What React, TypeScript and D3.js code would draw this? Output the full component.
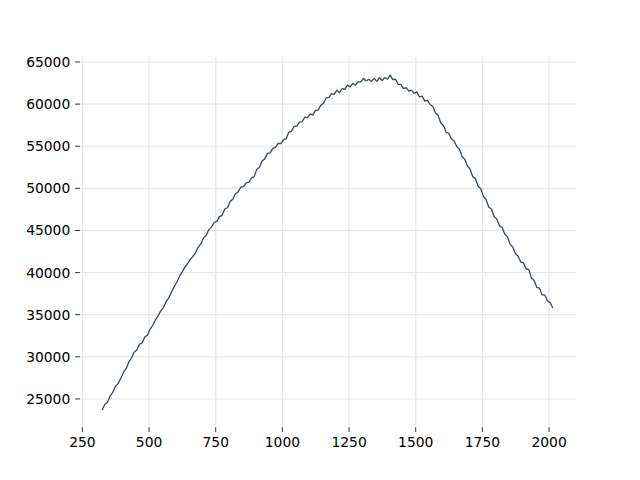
import React from "react";
import * as d3 from "d3";

const xValues: number[] = d3.range(324, 2015, 10);
const yValues: number[] = [
  23700, 24350, 24600, 25350, 25800, 26500, 26850, 27450, 28150, 28600,
  29400, 29850, 30550, 30800, 31500, 31650, 32350, 32600, 33300, 33750,
  34400, 34900, 35450, 35850, 36550, 37000, 37700, 38300, 38850, 39550,
  40050, 40650, 41050, 41550, 41900, 42350, 43000, 43400, 44100, 44400,
  45100, 45400, 45950, 46050, 46650, 46800, 47550, 47700, 48450, 48700,
  49350, 49600, 50150, 50200, 50650, 50700, 51250, 51400, 52250, 52500,
  53250, 53500, 54150, 54200, 54750, 54900, 55350, 55300, 55750, 55900,
  56650, 56800, 57350, 57400, 57850, 57900, 58450, 58400, 58850, 58700,
  59250, 59300, 59850, 60100, 60750, 60800, 61250, 61150, 61650, 61350,
  61850, 61750, 62250, 62050, 62450, 62250, 62650, 62650, 63050, 62750,
  62950, 62700, 63050, 62700, 63150, 62800, 63150, 62950, 63450, 62900,
  62950, 62350, 62350, 61850, 61950, 61550, 61650, 61250, 61450, 60850,
  60950, 60350, 60450, 59950, 59750, 58950, 58650, 57750, 57450, 56650,
  56550, 55850, 55650, 54950, 54650, 53750, 53450, 52650, 52250, 51350,
  51150, 50250, 49950, 49050, 48650, 47750, 47550, 46650, 46350, 45550,
  45350, 44550, 44250, 43350, 43050, 42250, 41950, 41250, 41150, 40450,
  40350, 39350, 39050, 38250, 38150, 37350, 37350, 36650, 36450, 35800,
];
const xTicks = [250, 500, 750, 1000, 1250, 1500, 1750, 2000];
const yTicks = [25000, 30000, 35000, 40000, 45000, 50000, 55000, 60000, 65000];

const W = 640, H = 480;
const left = 80, right = 576, top = 57.6, bottom = 427.2;
const FONT = "'DejaVu Sans', sans-serif";

export default function App() {
  const x = d3.scaleLinear().domain([241, 2101]).range([left, right]);
  const y = d3.scaleLinear().domain([21650, 65520]).range([bottom, top]);
  const data = xValues.map((v, i) => [v, yValues[i]] as [number, number]);
  const line = d3.line<[number, number]>().x(d => x(d[0])).y(d => y(d[1]));
  return (
    <svg width={W} height={H} style={{ position: "absolute", left: 0, top: 0, background: "#fff" }}>
      <g>
        {xTicks.map(t => (
          <line key={"gx" + t} x1={x(t)} x2={x(t)} y1={top} y2={bottom} stroke="#e5e5e5" strokeWidth={1.2} />
        ))}
        {yTicks.map(t => (
          <line key={"gy" + t} x1={left} x2={right} y1={y(t)} y2={y(t)} stroke="#e5e5e5" strokeWidth={1.2} />
        ))}
      </g>
      <path d={line(data) || ""} fill="none" stroke="#34495e" strokeWidth={1.3} strokeLinejoin="round" />
      <g fontFamily={FONT} fontSize={13.89} fill="#000">
        {xTicks.map(t => (
          <g key={"tx" + t}>
            <line x1={x(t)} x2={x(t)} y1={bottom} y2={bottom + 4.86} stroke="#000" strokeWidth={0.8} />
            <text x={x(t)} y={bottom + 20.2} textAnchor="middle">{t}</text>
          </g>
        ))}
        {yTicks.map(t => (
          <g key={"ty" + t}>
            <line x1={left - 4.86} x2={left} y1={y(t)} y2={y(t)} stroke="#000" strokeWidth={0.8} />
            <text x={left - 9.72} y={y(t) + 5} textAnchor="end">{t}</text>
          </g>
        ))}
      </g>
    </svg>
  );
}
